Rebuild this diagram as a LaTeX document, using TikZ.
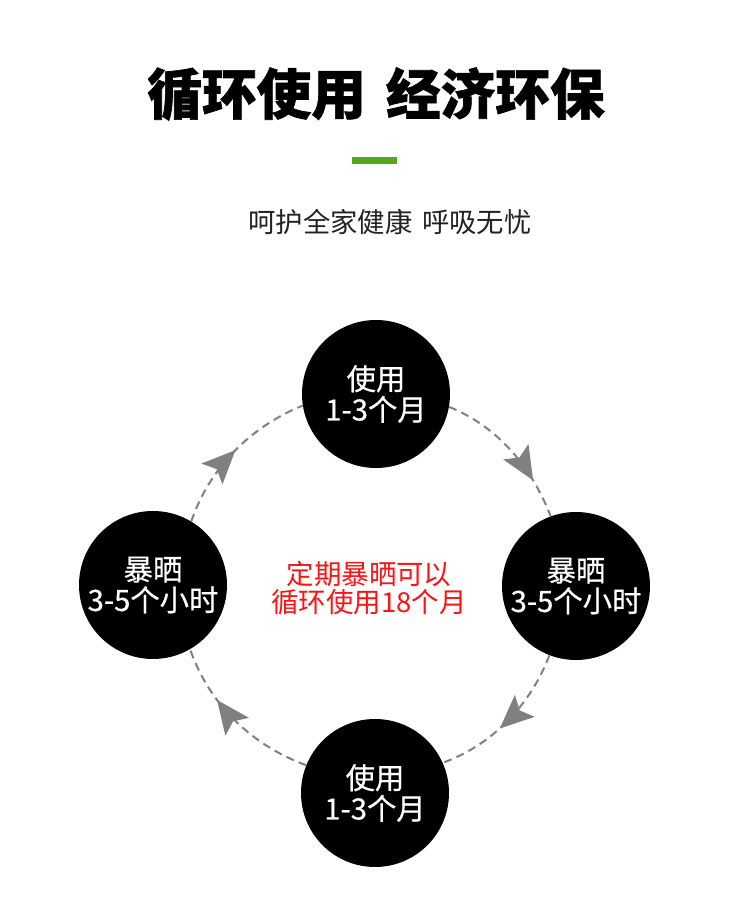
\documentclass[tikz,border=0pt]{standalone}
\usepackage{fontspec}
\usepackage{tikz}
\usetikzlibrary{arrows.meta,decorations.markings}
\newfontfamily\cjk{Noto Sans CJK SC}[WordSpace=1.6,BoldFeatures={FakeBold=1.2}]
\newfontfamily\cjkmedio{Noto Sans CJK SC}[FakeBold=0.5]
\definecolor{verde}{RGB}{90,165,20}
\definecolor{cinza}{RGB}{128,128,128}
\definecolor{vermelho}{RGB}{250,20,20}
\definecolor{texto}{RGB}{34,34,34}
\tikzset{
  bola/.style={circle,fill=black,minimum size=111pt,inner sep=0pt,
    text=white,align=center,font=\cjkmedio\fontsize{22}{23}\selectfont},
  ciclo/.style={draw=cinza,line width=1.5pt,dash pattern=on 6pt off 4pt,looseness=0.9},
  seta/.style={postaction={decorate,decoration={markings,
    mark=at position #1 with {\arrow{Stealth[length=25pt,width=22pt,inset=5pt,color=cinza]}}}}}
}

\begin{document}
\begin{tikzpicture}[x=0.75pt,y=0.75pt]
    \useasboundingbox[fill=white] (0,0) rectangle (750,911);

    % Título
    \node[font=\cjk\bfseries\fontsize{41}{41}\selectfont] (titulo) at (376,817) {循环使用 经济环保};
    \fill[verde] (352,747) rectangle (397,754);
    \node[font=\cjk\fontsize{20.5}{22}\selectfont,text=texto] (subtitulo) at (390,689) {呵护全家健康 呼吸无忧};

    % Círculos
    \node[bola] (uso1) at (376,517) {使用\\1-3个月};
    \node[bola] (sol1) at (576,325) {暴晒\\3-5个小时};
    \node[bola] (uso2) at (375,118) {使用\\1-3个月};
    \node[bola] (sol2) at (153,326) {暴晒\\3-5个小时};

    % Texto central
    \node[font=\cjk\fontsize{20.6}{20.5}\selectfont,text=vermelho,align=center] (centro) at (369,323)
        {定期暴晒可以\\循环使用18个月};

    % Ciclo
    \draw[ciclo,seta=0.51] (sol2.59) to[out=71,in=202] (uso1.189);
    \draw[ciclo,seta=0.74] (uso1.350) to[out=338,in=111] (sol1.110);
    \draw[ciclo,seta=0.57] (sol1.249) to[out=249,in=20] (uso2.24);
    \draw[ciclo,seta=0.66] (uso2.158) to[out=160,in=289] (sol2.300);
\end{tikzpicture}
\end{document}
